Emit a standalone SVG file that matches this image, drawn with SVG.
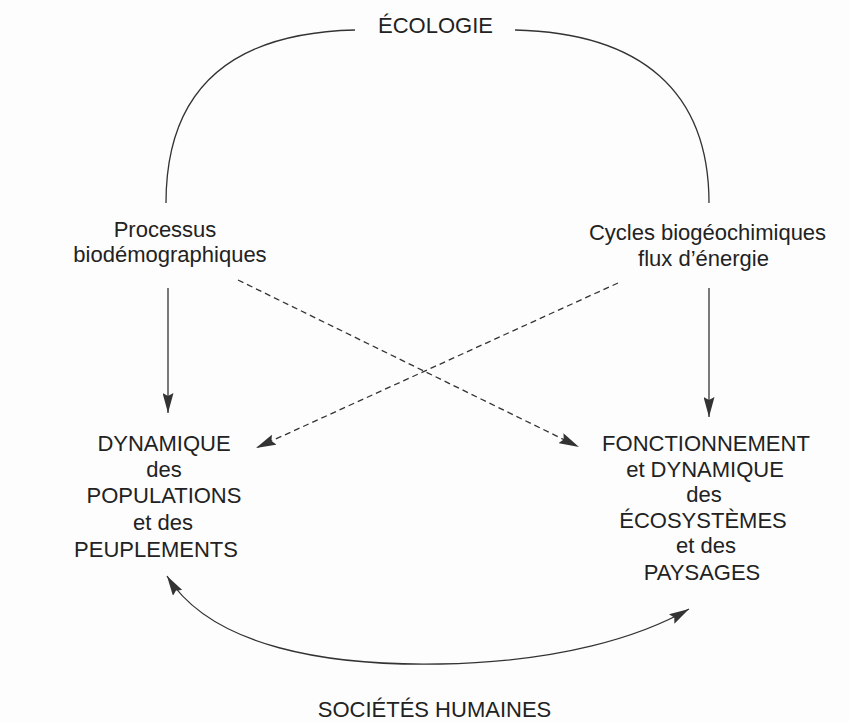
<svg xmlns="http://www.w3.org/2000/svg" width="849" height="723" viewBox="0 0 849 723">
  <style>
    .t { font-family: "Liberation Sans", Arial, Helvetica, sans-serif; font-size: 22px; fill: #222; text-anchor: middle; }
    .ln { fill: none; stroke: #333; stroke-width: 1.3; }
    .dash { stroke-dasharray: 6 4; }
  </style>
  <defs>
    <marker id="ah" viewBox="0 0 20 11" refX="20" refY="5.5" markerUnits="userSpaceOnUse" markerWidth="20" markerHeight="11" orient="auto-start-reverse">
      <path d="M0,0 L20,5.5 L0,11 L3,5.5 Z" fill="#333"/>
    </marker>
  </defs>
  <rect x="0" y="0" width="849" height="723" fill="#fdfdfd"/>

  <g id="connectors">
    <path class="ln" d="M166,203 C166,92 228,33 355,30"/>
    <path class="ln" d="M515,30 C642,33 709,92 709,203"/>
    <line class="ln" x1="168" y1="288" x2="168" y2="413" marker-end="url(#ah)"/>
    <line class="ln" x1="709" y1="288" x2="709" y2="417" marker-end="url(#ah)"/>
    <line class="ln dash" x1="238" y1="280" x2="579" y2="447" marker-end="url(#ah)"/>
    <line class="ln dash" x1="618" y1="283" x2="256" y2="448" marker-end="url(#ah)"/>
    <path class="ln" d="M167,576 C212,648 330,666 440,664 C560,662 642,636 689,609" marker-start="url(#ah)" marker-end="url(#ah)"/>
  </g>

  <g id="ecologie">
    <text class="t" x="435.5" y="33">ÉCOLOGIE</text>
  </g>
  <g id="processus">
    <text class="t" x="165" y="237">Processus</text>
    <text class="t" x="170" y="262">biodémographiques</text>
  </g>
  <g id="cycles">
    <text class="t" x="707.5" y="240">Cycles biogéochimiques</text>
    <text class="t" x="703.5" y="266">flux d’énergie</text>
  </g>
  <g id="populations">
    <text class="t" x="164" y="451">DYNAMIQUE</text>
    <text class="t" x="164" y="477">des</text>
    <text class="t" x="164" y="503">POPULATIONS</text>
    <text class="t" x="163" y="530">et des</text>
    <text class="t" x="156" y="557">PEUPLEMENTS</text>
  </g>
  <g id="ecosystemes">
    <text class="t" x="706" y="451">FONCTIONNEMENT</text>
    <text class="t" x="705" y="477">et DYNAMIQUE</text>
    <text class="t" x="704" y="502">des</text>
    <text class="t" x="703" y="528">ÉCOSYSTÈMES</text>
    <text class="t" x="706" y="553">et des</text>
    <text class="t" x="702" y="580">PAYSAGES</text>
  </g>
  <g id="societes">
    <text class="t" x="434.5" y="717">SOCIÉTÉS HUMAINES</text>
  </g>
</svg>
